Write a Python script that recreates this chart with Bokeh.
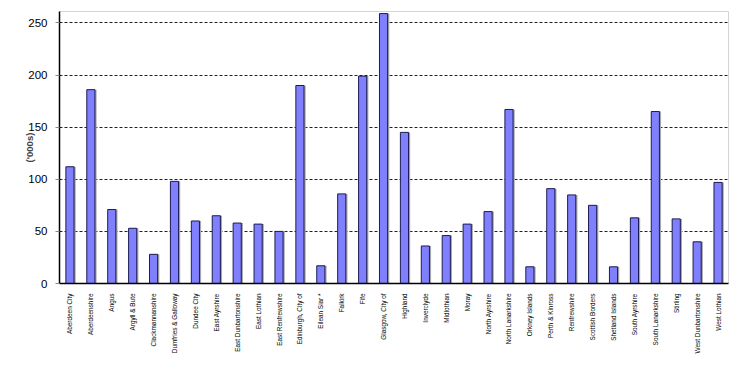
import math
from bokeh.plotting import figure
from bokeh.models import ColumnDataSource, FactorRange, Range1d, SingleIntervalTicker
from bokeh.transform import dodge
from bokeh.embed import file_html
from bokeh.resources import INLINE

councils = ["Aberdeen City", "Aberdeenshire", "Angus", "Argyll & Bute", "Clackmannanshire",
            "Dumfries & Galloway", "Dundee City", "East Ayrshire", "East Dunbartonshire",
            "East Lothian", "East Renfrewshire", "Edinburgh, City of", "Eilean Siar *",
            "Falkirk", "Fife", "Glasgow, City of", "Highland", "Inverclyde", "Midlothian",
            "Moray", "North Ayrshire", "North Lanarkshire", "Orkney Islands", "Perth & Kinross",
            "Renfrewshire", "Scottish Borders", "Shetland Islands", "South Ayrshire",
            "South Lanarkshire", "Stirling", "West Dunbartonshire", "West Lothian"]
values = [112, 186, 71, 53, 28, 98, 60, 65, 58, 57, 50, 190, 17, 86, 199, 259, 145,
          36, 46, 57, 69, 167, 16, 91, 85, 75, 16, 63, 165, 62, 40, 97]

source = ColumnDataSource(data=dict(council=councils, value=values))

p = figure(x_range=FactorRange(*councils, range_padding=0), y_range=Range1d(0, 261),
           width=736, height=361, output_backend="svg", toolbar_location=None,
           min_border_left=59, min_border_right=8, min_border_top=11, min_border_bottom=78)

# shadow
p.vbar(x=dodge("council", 0.08, range=p.x_range), top="value", width=0.39, source=source,
       fill_color="#a8a8a8", line_color=None)
p.vbar(x="council", top="value", width=0.39, source=source,
       fill_color="#8080ff", line_color="#1c1c50", line_width=1)

p.outline_line_color = "#d4d4d4"
p.background_fill_color = "white"
p.border_fill_color = "white"

p.xgrid.grid_line_color = None
p.ygrid.grid_line_color = "#222222"
p.ygrid.grid_line_dash = "3 2"
p.ygrid.grid_line_width = 1
p.ygrid.level = "underlay"

p.yaxis.ticker = SingleIntervalTicker(interval=50)
p.yaxis.axis_label = "('000s)"
p.yaxis.axis_label_text_font = "Liberation Sans"
p.yaxis.axis_label_text_font_style = "bold"
p.yaxis.axis_label_text_font_size = "9.5px"
p.yaxis.axis_label_standoff = -10
p.yaxis.major_label_text_font = "Liberation Sans"
p.yaxis.major_label_text_font_size = "11.5px"
p.yaxis.major_label_text_color = "black"
p.yaxis.major_tick_out = 4
p.yaxis.major_tick_in = 0
p.yaxis.major_tick_line_color = "#888888"
p.yaxis.minor_tick_out = 0
p.yaxis.minor_tick_in = 0
p.yaxis.major_label_standoff = 8
p.yaxis.axis_line_color = "black"
p.yaxis.axis_line_width = 1.5

p.xaxis.major_label_orientation = math.pi / 2
p.xaxis.major_label_text_font = "Liberation Sans"
p.xaxis.major_label_text_font_size = "6.4px"
p.xaxis.major_label_text_color = "black"
p.xaxis.major_tick_line_color = None
p.xaxis.major_label_standoff = 4
p.xaxis.axis_line_color = "black"
p.xaxis.axis_line_width = 1.5

open("out.html", "w").write(file_html(p, INLINE))
